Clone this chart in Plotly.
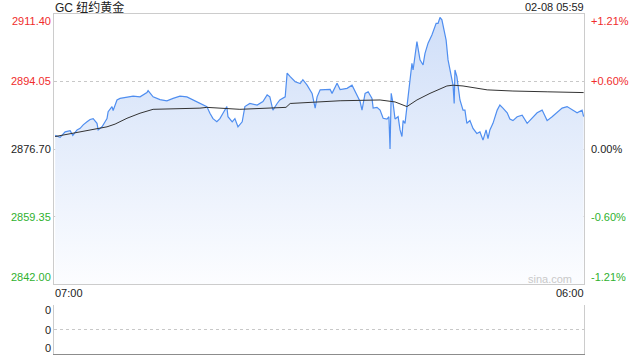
import plotly.graph_objects as go
from datetime import datetime, timedelta

# ---------------- data ----------------
title_text = "GC 纽约黄金"
stamp_text = "02-08 05:59"
watermark_text = "sina.com"

price_ticks = [2842.00, 2859.35, 2876.70, 2894.05, 2911.40]
price_tick_labels = ["2842.00", "2859.35", "2876.70", "2894.05", "2911.40"]
pct_tick_labels = ["-1.21%", "-0.60%", "0.00%", "+0.60%", "+1.21%"]
x_tick_labels = ["07:00", "06:00"]
vol_ticks = [0, 0.5, 1]
vol_tick_labels = ["0", "0", "0"]

price_times = [
    "07:03", "07:16", "07:29", "07:42", "07:49", "08:00", "08:08", "08:16", "08:26", "08:34",
    "08:42", "08:52", "08:55", "09:05", "09:13", "09:18", "09:21", "09:31", "09:34", "09:44",
    "09:52", "10:10", "10:26", "10:44", "11:02", "11:05", "11:18", "11:36", "11:54", "12:10",
    "12:28", "12:46", "13:02", "13:20", "13:38", "13:46", "13:54", "14:04", "14:12", "14:20",
    "14:30", "14:33", "14:44", "14:51", "14:59", "15:10", "15:17", "15:30", "15:49", "16:04",
    "16:15", "16:22", "16:30", "16:41", "16:48", "17:02", "17:07", "17:15", "17:28", "17:41",
    "17:48", "17:59", "18:12", "18:20", "18:25", "18:33", "18:51", "18:59", "19:04", "19:17",
    "19:25", "19:43", "19:56", "20:04", "20:17", "20:22", "20:30", "20:38", "20:48", "20:51",
    "21:01", "21:09", "21:17", "21:27", "21:32", "21:35", "21:38", "21:43", "21:48", "21:56",
    "22:01", "22:06", "22:09", "22:14", "22:19", "22:27", "22:32", "22:35", "22:43", "22:45",
    "22:53", "23:01", "23:06", "23:14", "23:24", "23:30", "23:35", "23:40", "23:45", "23:50",
    "23:53", "00:01", "00:06", "00:11", "00:19", "00:22", "00:24", "00:29", "00:37", "00:45",
    "00:50", "00:55", "01:03", "01:11", "01:21", "01:29", "01:37", "01:45", "01:50", "01:55",
    "02:03", "02:14", "02:21", "02:29", "02:40", "02:47", "02:55", "03:06", "03:19", "03:32",
    "03:45", "03:58", "04:11", "04:24", "04:37", "04:50", "05:03", "05:16", "05:29", "05:42",
    "05:55", "05:59",
]
price_values = [
    2880.2, 2879.7, 2881.1, 2881.4, 2880.2, 2881.6, 2882.0, 2882.9, 2883.7, 2884.3,
    2884.5, 2883.3, 2881.6, 2882.4, 2883.7, 2884.5, 2886.3, 2887.6, 2886.6, 2889.3,
    2889.7, 2890.0, 2890.3, 2890.1, 2891.2, 2891.7, 2890.1, 2889.4, 2889.1, 2889.7,
    2890.3, 2890.1, 2889.3, 2888.6, 2887.6, 2885.9, 2884.5, 2883.7, 2884.5, 2885.9,
    2887.6, 2885.0, 2883.7, 2884.5, 2882.4, 2883.7, 2887.6, 2888.4, 2888.0, 2888.9,
    2890.6, 2890.1, 2886.7, 2888.4, 2889.3, 2890.1, 2896.2, 2895.3, 2894.0, 2893.5,
    2894.5, 2893.1, 2891.0, 2887.2, 2890.1, 2891.9, 2892.1, 2892.0, 2891.0, 2893.6,
    2892.0, 2892.3, 2893.1, 2891.4, 2888.9, 2886.7, 2891.0, 2891.4, 2889.7, 2887.2,
    2887.4, 2886.7, 2884.6, 2884.4, 2885.0, 2876.7, 2891.0, 2888.4, 2884.4, 2885.0,
    2881.6, 2879.9, 2884.0, 2883.3, 2888.0, 2895.3, 2898.7, 2897.0, 2903.0, 2904.3,
    2899.6, 2898.3, 2901.3, 2903.9, 2906.0, 2907.7, 2909.0, 2909.0, 2910.5, 2909.9,
    2908.6, 2904.7, 2899.6, 2897.0, 2893.1, 2888.4, 2897.0, 2895.3, 2889.3, 2886.7,
    2886.7, 2883.3, 2884.0, 2882.0, 2880.7, 2881.1, 2879.0, 2881.6, 2879.4, 2881.6,
    2883.3, 2886.7, 2888.0, 2887.2, 2886.0, 2884.4, 2884.0, 2885.0, 2885.4, 2883.3,
    2884.6, 2886.0, 2886.7, 2884.0, 2885.0, 2886.0, 2887.2, 2887.6, 2886.7, 2886.0,
    2886.7, 2885.0,
]

avg_times = [
    "07:03", "08:08", "09:18", "09:39", "10:10", "10:44", "11:10", "11:18", "13:20", "13:38",
    "15:04", "16:48", "17:04", "17:15", "19:25", "21:09", "21:48", "22:19", "22:45", "23:19",
    "00:03", "00:19", "00:45", "01:48", "02:55", "04:24", "05:59",
]
avg_values = [
    2879.9, 2881.1, 2882.4, 2883.1, 2884.6, 2885.9, 2886.7, 2886.9, 2887.2, 2887.4,
    2886.9, 2887.2, 2887.4, 2888.4, 2889.1, 2889.3, 2888.8, 2887.6, 2889.3, 2891.0,
    2892.9, 2893.1, 2892.9, 2891.9, 2891.6, 2891.4, 2891.2,
]

# ---------------- helpers ----------------
BASE = datetime(2025, 2, 7)


def to_dt(s):
    h, m = map(int, s.split(":"))
    day = BASE if h >= 7 else BASE + timedelta(days=1)
    return day + timedelta(hours=h, minutes=m)


x_start = to_dt(x_tick_labels[0])
x_end = to_dt(x_tick_labels[1])

RED = "#f02c2c"
GREEN = "#2fb12f"
BLACK = "#222222"
tick_colors = [GREEN, GREEN, BLACK, RED, RED]
FONT = "Liberation Sans, Arial, Noto Sans CJK SC, sans-serif"

W, H = 640, 360
L, R = 54, 584
MAIN_T, MAIN_B = 14, 284
VOL_T, VOL_B = 305, 354

fig = go.Figure()

fig.add_trace(go.Scatter(
    x=[to_dt(t) for t in price_times], y=price_values,
    mode="lines", line=dict(color="#4f8ef0", width=1.2),
    fill="tozeroy",
    fillgradient=dict(type="vertical",
                      colorscale=[[0, "#fcfdff"], [1, "#cfdef8"]],
                      start=price_ticks[0], stop=price_ticks[-1]),
    xaxis="x", yaxis="y", showlegend=False, hoverinfo="skip",
))
fig.add_trace(go.Scatter(
    x=[to_dt(t) for t in avg_times], y=avg_values,
    mode="lines", line=dict(color="#333333", width=1),
    xaxis="x", yaxis="y", showlegend=False, hoverinfo="skip",
))
# empty volume panel
fig.add_trace(go.Scatter(x=[x_start, x_end], y=[None, None], mode="lines",
                         xaxis="x2", yaxis="y2", showlegend=False))

annotations = []
for i, (v, lab, pct) in enumerate(zip(price_ticks, price_tick_labels, pct_tick_labels)):
    ys = -7 if i == len(price_ticks) - 1 else (7 if i == 0 else 0)
    annotations.append(dict(xref="paper", yref="y", x=L / W, y=v, text=lab,
                            xanchor="right", yanchor="middle", xshift=-1, yshift=ys,
                            showarrow=False, font=dict(size=11, color=tick_colors[i], family=FONT)))
    annotations.append(dict(xref="paper", yref="y", x=R / W, y=v, text=pct,
                            xanchor="left", yanchor="middle", xshift=5, yshift=ys,
                            showarrow=False, font=dict(size=11, color=tick_colors[i], family=FONT)))

annotations.append(dict(xref="x", yref="paper", x=x_start, y=1 - 293 / H, text=x_tick_labels[0],
                        xanchor="left", yanchor="middle", xshift=-1, showarrow=False,
                        font=dict(size=11, color=BLACK, family=FONT)))
annotations.append(dict(xref="x", yref="paper", x=x_end, y=1 - 293 / H, text=x_tick_labels[1],
                        xanchor="right", yanchor="middle", xshift=2, showarrow=False,
                        font=dict(size=11, color=BLACK, family=FONT)))

for i, (v, lab) in enumerate(zip(vol_ticks, vol_tick_labels)):
    ys = -5 if i == len(vol_ticks) - 1 else (6 if i == 0 else 0)
    annotations.append(dict(xref="paper", yref="y2", x=L / W, y=v, text=lab,
                            xanchor="right", yanchor="middle", xshift=-1, yshift=ys,
                            showarrow=False, font=dict(size=11, color=BLACK, family=FONT)))

annotations.append(dict(xref="paper", yref="paper", x=L / W, y=1 - 7 / H, text=title_text,
                        xanchor="left", yanchor="middle", xshift=-1, showarrow=False,
                        font=dict(size=12, color=BLACK, family=FONT)))
annotations.append(dict(xref="paper", yref="paper", x=R / W, y=1 - 7 / H, text=stamp_text,
                        xanchor="right", yanchor="middle", xshift=2, showarrow=False,
                        font=dict(size=11, color=BLACK, family=FONT)))
annotations.append(dict(xref="paper", yref="paper", x=574 / W, y=1 - 279 / H, text=watermark_text,
                        xanchor="right", yanchor="middle", showarrow=False,
                        font=dict(size=11, color="#c9c9c9", family=FONT)))

fig.update_layout(
    width=W, height=H, margin=dict(l=0, r=0, t=0, b=0),
    paper_bgcolor="white", plot_bgcolor="white",
    annotations=annotations,
    xaxis=dict(domain=[L / W, R / W], range=[x_start, x_end], showticklabels=False,
               showgrid=False, zeroline=False, showline=True, mirror=True,
               linecolor="#cccccc", linewidth=1, ticks="", anchor="y"),
    yaxis=dict(domain=[1 - MAIN_B / H, 1 - MAIN_T / H], range=[price_ticks[0], price_ticks[-1]],
               tickvals=price_ticks, showticklabels=False, showgrid=True, griddash="dot",
               gridcolor="#c8c8c8", gridwidth=1, zeroline=False, showline=True, mirror=True,
               linecolor="#cccccc", linewidth=1, ticks="", anchor="x"),
    xaxis2=dict(domain=[L / W, R / W], range=[x_start, x_end], showticklabels=False,
                showgrid=False, zeroline=False, showline=True, linecolor="#8c8c8c",
                linewidth=1, ticks="", anchor="y2"),
    yaxis2=dict(domain=[1 - VOL_B / H, 1 - VOL_T / H], range=[0, 1], tickvals=vol_ticks,
                showticklabels=False, showgrid=True, griddash="dot", gridcolor="#c8c8c8",
                zeroline=False, showline=True, mirror=True, linecolor="#cccccc",
                linewidth=1, ticks="", anchor="x2"),
)

fig.write_html("out.html")
